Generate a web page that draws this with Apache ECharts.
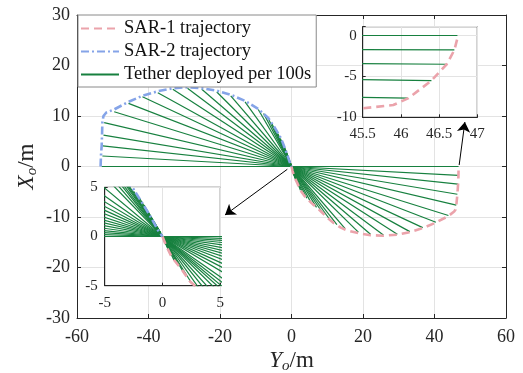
<!DOCTYPE html>
<html><head><meta charset="utf-8">
<script src="https://cdn.jsdelivr.net/npm/echarts@6/dist/echarts.min.js"></script>
<style>html,body{margin:0;padding:0;background:#fff}#c{width:523px;height:373px}</style>
</head><body><div id="c"></div>
<script>
// ---- data (Yo, Xo) in metres ----
const sar2Trajectory = [[-53.4,0],[-53.3,2.1],[-53.1,4.1],[-53.0,6.2],[-52.9,8.7],[-52.6,10.0],[-51.8,10.7],[-49.6,11.3],[-45.6,12.8],[-41.7,14.0],[-37.4,14.9],[-33.2,15.5],[-29.1,15.7],[-25.1,15.5],[-20.9,15.0],[-17.0,14.2],[-13.0,13.0],[-9.3,11.4],[-6.5,9.6],[-4.6,7.6],[-3.2,5.9],[-2.5,4.8],[-1.8,3.5],[-1.1,2.15],[-0.4,0.65],[0,0]];
const sar1Trajectory = [[0,0],[0.3,-0.9],[0.8,-2.1],[1.7,-3.4],[2.4,-4.6],[3.5,-5.7],[4.8,-6.7],[6.0,-7.5],[7.1,-8.1],[8.7,-9.2],[10.3,-10.3],[12.0,-11.3],[13.8,-12.1],[15.7,-12.7],[18.7,-13.2],[22.1,-13.6],[25.7,-13.7],[29.6,-13.5],[33.1,-13.0],[36.7,-12.2],[40.4,-11.1],[43.9,-9.8],[45.5,-8.9],[45.9,-8.5],[46.1,-7.65],[46.4,-5.5],[46.6,-3.5],[46.7,-1.75],[46.74,-0.3]];
const sar2TetherEnds = [[-0.1,0.25],[-0.25,0.55],[-0.45,0.95],[-0.7,1.45],[-1.0,2.0],[-1.3,2.6],[-1.6,3.2],[-2.0,3.9],[-2.5,4.6],[-3.1,5.5],[-3.8,6.5],[-4.6,7.55],[-5.5,8.5],[-6.5,9.5],[-7.8,10.5],[-9.3,11.3],[-13.0,12.8],[-17.0,14.0],[-20.9,14.75],[-25.1,15.3],[-29.1,15.5],[-33.2,15.3],[-37.4,14.6],[-41.7,13.8],[-45.6,12.5],[-49.6,10.85],[-52.4,8.7],[-52.6,6.2],[-52.8,4.1],[-52.9,2.08],[-53.1,0]];
const sar1TetherEnds = [[0.1,-0.3],[0.25,-0.7],[0.45,-1.2],[0.7,-1.8],[1.0,-2.4],[1.4,-3.0],[1.9,-3.8],[2.5,-4.7],[3.3,-5.5],[4.3,-6.3],[5.5,-7.2],[7.0,-8.1],[8.7,-9.2],[10.6,-10.4],[12.7,-11.5],[15.0,-12.3],[18.7,-13.0],[22.1,-13.4],[25.7,-13.56],[29.6,-13.4],[33.1,-12.9],[36.7,-12.1],[40.4,-11.05],[43.9,-9.7],[46.09,-7.65],[46.4,-5.5],[46.6,-3.5],[46.7,-1.75],[46.74,0]];
const tetherAnchor = [0,0];
const arrowToLowerInset = [[-1.17,-0.55],[-18.6,-9.6]];
const arrowToUpperInset = [[46.9,0.3],[48.5,8.8]];
const seriesNames = ['SAR-1 trajectory','SAR-2 trajectory','Tether deployed per 100s'];
const mainYoRange = [-60,60], mainYoStep = 20;
const mainXoRange = [-30,30], mainXoStep = 10;
const insetARange = [-5,5], insetAStep = 5;
const insetBYoRange = [45.5,47], insetBYoStep = 0.5;
const insetBXoRange = [-10,1.1], insetBXoStep = 5;

// ---- styling ----
const F = "'Liberation Serif','Times New Roman',serif";
const INK = '#262626';
const PINK = '#eba3ab';
const BLUE = '#85a4e8';
const GREEN = '#17803f';

const tetherData = sar2TetherEnds.concat(sar1TetherEnds).map(p => ({coords:[tetherAnchor, p]}));

function axis(gridIndex, range, step, o) {
  o = o || {};
  return Object.assign({
    type:'value', gridIndex, min:range[0], max:range[1], interval:step,
    z: o.zz || 0,
    nameMoveOverlap:false,
    axisLine:{show:true, onZero:false, lineStyle:{color:INK, width:1}},
    axisTick:{show:true, inside:true, length:o.tick||4, lineStyle:{color:INK, width:1}},
    splitLine:{show:o.split!==false, lineStyle:{color:'#e3e3e3', width:1}},
    axisLabel:{show:o.label!==false, fontFamily:F, fontSize:o.fs||18, color:INK, margin:o.margin||8,
      formatter:o.fmt, hideOverlap:false},
  }, o.extra||{});
}
const richName = {
  i:{fontFamily:F, fontStyle:'italic', fontSize:23, lineHeight:26, color:INK},
  s:{fontFamily:F, fontStyle:'italic', fontSize:15, lineHeight:15, verticalAlign:'bottom', color:INK},
  n:{fontFamily:F, fontSize:23, lineHeight:26, color:INK}
};
const onlyStep = s => v => (Math.abs(v/s - Math.round(v/s)) < 1e-6 ? String(v) : '');

const option = {
  animation:false,
  backgroundColor:'#fff',
  grid:[
    {left:77, top:15, width:429, height:303, show:false, outerBoundsMode:'none', containLabel:false},
    {left:104.7, top:187.3, width:115.6, height:98.4, show:true, backgroundColor:'#fff', borderColor:INK, borderWidth:1, z:5, outerBoundsMode:'none', containLabel:false},
    {left:362.7, top:26.7, width:114.6, height:90.6, show:true, backgroundColor:'#fff', borderColor:INK, borderWidth:1, z:5, outerBoundsMode:'none', containLabel:false}
  ],
  xAxis:[
    axis(0, mainYoRange, mainYoStep, {margin:10, extra:{name:'{i|Y}{s|o}{n|/m}', nameLocation:'middle', nameGap:30, nameTextStyle:{rich:richName}}}),
    axis(0, mainYoRange, mainYoStep, {label:false, split:false, extra:{position:'top'}}),
    axis(1, insetARange, insetAStep, {fs:15, margin:10, tick:3, zz:6}),
    axis(2, insetBYoRange, insetBYoStep, {fs:15, margin:9, tick:3, zz:6})
  ],
  yAxis:[
    axis(0, mainXoRange, mainXoStep, {margin:7, extra:{name:'{i|X}{s|o}{n|/m}', nameLocation:'middle', nameRotate:90, nameGap:37, nameTextStyle:{rich:richName}}}),
    axis(0, mainXoRange, mainXoStep, {label:false, split:false, extra:{position:'right'}}),
    axis(1, insetARange, insetAStep, {fs:15, margin:7, tick:3, zz:6}),
    axis(2, insetBXoRange, insetBXoStep, {fs:15, margin:6, tick:3, zz:6, fmt:onlyStep(insetBXoStep)})
  ],
  legend:{
    left:78, top:15, orient:'vertical', backgroundColor:'#fff', borderColor:'#8a8a8a', borderWidth:1,
    padding:[4,5,3,2], itemWidth:38, itemHeight:14, itemGap:4, selectedMode:false, z:10,
    itemStyle:{opacity:0},
    textStyle:{fontFamily:F, fontSize:18.5, color:'#111', lineHeight:18},
    data: seriesNames
  },
  series:[]
};

function addPanel(xi, yi, zBase, withSar2) {
  option.series.push({type:'lines', name:seriesNames[2], coordinateSystem:'cartesian2d', xAxisIndex:xi, yAxisIndex:yi,
    data:tetherData, clip:true, silent:true, z:zBase, lineStyle:{color:GREEN, width:1.2, opacity:1}, symbol:'none'});
  option.series.push({type:'line', name:seriesNames[0], xAxisIndex:xi, yAxisIndex:yi, data:sar1Trajectory,
    showSymbol:false, symbol:'none', clip:true, silent:true, z:zBase+1, color:PINK,
    lineStyle:{color:PINK, width:2.6, type:[8,5]}});
  if (withSar2) option.series.push({type:'line', name:seriesNames[1], xAxisIndex:xi, yAxisIndex:yi, data:sar2Trajectory,
    showSymbol:false, symbol:'none', clip:true, silent:true, z:zBase+1, color:BLUE,
    lineStyle:{color:BLUE, width:2.6, type:[8,3,2,3]}});
}
// legend proxy for tether style
option.series.push({type:'line', name:seriesNames[2], xAxisIndex:0, yAxisIndex:0, data:[], symbol:'none', color:GREEN, lineStyle:{color:GREEN, width:1.2}});
addPanel(0, 0, 2, true);
option.series.push({type:'lines', coordinateSystem:'cartesian2d', xAxisIndex:0, yAxisIndex:0, silent:true, z:4,
  data:[{coords:arrowToLowerInset},{coords:arrowToUpperInset}], symbol:['none','arrow'], symbolSize:[0,10],
  lineStyle:{color:'#000', width:1, opacity:1}});
addPanel(2, 2, 7, true);
addPanel(3, 3, 7, false);

const chart = echarts.init(document.getElementById('c'), null, {renderer:'canvas'});
chart.setOption(option);
</script>
</body></html>
